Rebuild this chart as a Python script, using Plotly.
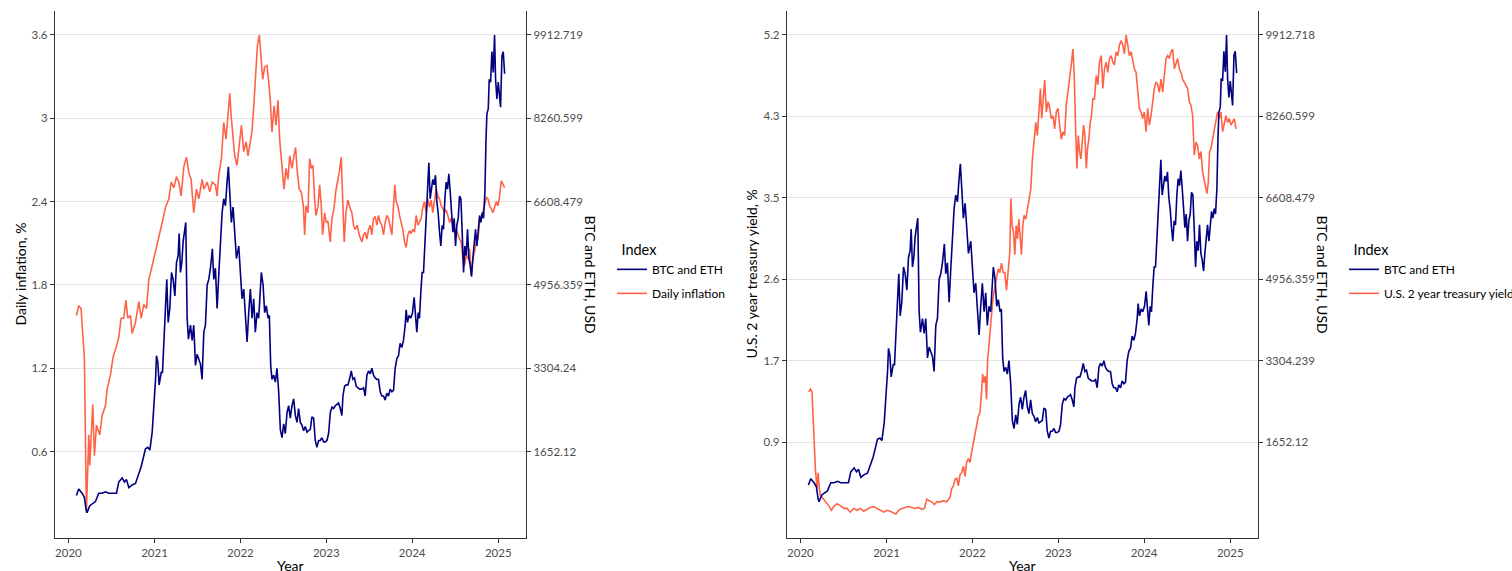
import pandas as pd
import plotly.graph_objects as go

# ---------------- data (dates as decimal years) ----------------
crypto_dates = [
    2020.093, 2020.120, 2020.159, 2020.186, 2020.206, 2020.217, 2020.248, 2020.275, 2020.314, 2020.353,
    2020.392, 2020.430, 2020.469, 2020.508, 2020.558, 2020.585, 2020.624, 2020.651, 2020.674, 2020.702,
    2020.740, 2020.779, 2020.818, 2020.845, 2020.868, 2020.895, 2020.923, 2020.946, 2020.973, 2020.992,
    2021.012, 2021.023, 2021.039, 2021.054, 2021.078, 2021.093, 2021.109, 2021.124, 2021.143, 2021.159,
    2021.178, 2021.198, 2021.217, 2021.237, 2021.256, 2021.275, 2021.287, 2021.302, 2021.318, 2021.333,
    2021.345, 2021.364, 2021.380, 2021.395, 2021.419, 2021.438, 2021.457, 2021.477, 2021.496, 2021.516,
    2021.535, 2021.554, 2021.574, 2021.593, 2021.613, 2021.632, 2021.651, 2021.674, 2021.690,
    2021.709, 2021.729, 2021.748, 2021.767, 2021.787, 2021.806, 2021.826, 2021.845, 2021.860, 2021.876,
    2021.895, 2021.915, 2021.934, 2021.954, 2021.981,
    2022.000, 2022.019, 2022.039, 2022.058, 2022.078, 2022.097, 2022.116, 2022.136, 2022.155, 2022.174,
    2022.194, 2022.213, 2022.233, 2022.244, 2022.264, 2022.283, 2022.302, 2022.322, 2022.337, 2022.353,
    2022.368, 2022.388, 2022.407, 2022.426, 2022.446, 2022.465, 2022.485, 2022.504, 2022.523, 2022.543,
    2022.562, 2022.581, 2022.601, 2022.620, 2022.640, 2022.659, 2022.678, 2022.698, 2022.717, 2022.736,
    2022.756, 2022.775, 2022.795, 2022.814, 2022.833, 2022.853, 2022.872, 2022.891, 2022.911, 2022.930,
    2022.950, 2022.969, 2022.988,
    2023.008, 2023.027, 2023.047, 2023.066, 2023.085, 2023.105, 2023.124, 2023.143, 2023.163, 2023.182,
    2023.194, 2023.213, 2023.233, 2023.252, 2023.271, 2023.291, 2023.310, 2023.329, 2023.349, 2023.368,
    2023.388,
    2023.415, 2023.434, 2023.453, 2023.473, 2023.492, 2023.512, 2023.531, 2023.550, 2023.570, 2023.589,
    2023.608, 2023.628, 2023.647, 2023.667, 2023.686, 2023.705, 2023.725, 2023.744, 2023.764, 2023.783,
    2023.802, 2023.822, 2023.841, 2023.860, 2023.880, 2023.899, 2023.919, 2023.930, 2023.946, 2023.965,
    2023.984,
    2024.004, 2024.023, 2024.039, 2024.054, 2024.070, 2024.085, 2024.101, 2024.116, 2024.132, 2024.147,
    2024.163, 2024.178, 2024.194, 2024.209, 2024.225, 2024.240, 2024.256, 2024.271, 2024.287, 2024.302,
    2024.318, 2024.333, 2024.349, 2024.364, 2024.380, 2024.395, 2024.411, 2024.426, 2024.442, 2024.457,
    2024.473, 2024.488, 2024.504, 2024.519, 2024.535, 2024.550, 2024.566, 2024.581, 2024.597, 2024.612,
    2024.628, 2024.643, 2024.659, 2024.674, 2024.690, 2024.705, 2024.721, 2024.736, 2024.752, 2024.767,
    2024.783, 2024.798, 2024.814, 2024.829, 2024.845, 2024.857, 2024.868, 2024.884, 2024.895, 2024.911,
    2024.926, 2024.942, 2024.957, 2024.969, 2024.984,
    2025.000, 2025.016, 2025.027, 2025.043, 2025.058, 2025.074,
]
crypto_usd = [
    779, 909, 826, 743, 496, 441, 578, 606, 661, 826,
    826, 854, 826, 826, 826, 1046, 1129, 1046, 1101, 936,
    991, 1019, 1212, 1349, 1514, 1707, 1735, 1680, 2038, 2506,
    3084, 3552, 3414, 2974, 3222, 3222, 3882, 4488, 5066, 4213,
    4488, 5204, 5066, 4736, 5397, 5535, 5975, 5204, 5397, 5810,
    5948, 6195, 4296, 3882, 4158, 3855, 4158, 3359, 3580, 3497,
    3387, 3084, 4020, 4158, 4956, 5066, 5287, 5672, 5066,
    5287, 4488, 5149, 5810, 6388, 6664, 6526, 6994, 7297, 6801,
    6195, 6498, 5948, 5480, 5727,
    5287, 4681, 4874, 4296, 3827, 4406, 4874, 4296, 4681, 4020,
    4406, 4296, 4874, 5204, 4956, 4406, 4543, 4296, 4351, 3359,
    3084, 3167, 3029, 3304, 2836, 2093, 1927, 2203, 2010, 2423,
    2561, 2313, 2561, 2698, 2368, 2230, 2506, 2230, 2175, 2065,
    2148, 2038, 2065, 2093, 2340, 2313, 1872, 1735, 1872, 1872,
    1927, 1845, 1845,
    1872, 2010, 2423, 2533, 2506, 2561, 2588, 2616, 2506, 2368,
    2754, 2946, 2974, 2974, 3084, 3249, 3084, 3111, 2946, 2919,
    2891,
    2891, 2919, 2754, 3167, 3249, 3194, 3304, 3167, 3111, 3084,
    3084, 2836, 2754, 2754, 2671, 2809, 2754, 2891, 2836, 2864,
    3304, 3497, 3552, 3800, 3717, 3855, 4158, 4461, 4213, 4351,
    4296,
    4406, 4709, 4406, 4020, 4406, 4296, 4819, 5204, 5204, 5727,
    6278, 6801, 7379, 6664, 6939, 7049, 6939, 7132, 6608, 6388,
    6003, 5727, 6140, 6058, 6664, 6994, 6856, 7159, 6801, 6388,
    6003, 6278, 5727, 6140, 6278, 6719, 6664, 6003, 5204, 5727,
    5535, 6058, 5480, 5342, 5122, 5480, 5865, 6058, 5727, 6003,
    6333, 6195, 6388, 6278, 6801, 7793, 8343, 8453, 9032, 8977,
    9582, 9169, 9913, 9032, 8646,
    8977, 8646, 8481, 9500, 9582, 9142,
]

inflation_dates = [
    2020.093, 2020.120, 2020.147, 2020.171, 2020.186, 2020.209, 2020.237, 2020.248, 2020.283, 2020.302,
    2020.326, 2020.364, 2020.392, 2020.430, 2020.450, 2020.488, 2020.519, 2020.558, 2020.585, 2020.612,
    2020.643, 2020.667, 2020.690, 2020.721, 2020.740, 2020.779, 2020.818, 2020.845, 2020.876, 2020.907,
    2020.934, 2020.973,
    2021.012, 2021.039, 2021.070, 2021.101, 2021.128, 2021.167, 2021.194, 2021.225, 2021.256, 2021.283,
    2021.310, 2021.341, 2021.372, 2021.399, 2021.426, 2021.457, 2021.488, 2021.516, 2021.554, 2021.574,
    2021.613, 2021.644, 2021.671, 2021.698,
    2021.709, 2021.729, 2021.748, 2021.779, 2021.806, 2021.833, 2021.857, 2021.876, 2021.895, 2021.915,
    2021.934, 2021.961, 2021.988,
    2022.012, 2022.039, 2022.066, 2022.089, 2022.116, 2022.136, 2022.159, 2022.182, 2022.198, 2022.221,
    2022.240, 2022.260, 2022.283, 2022.310, 2022.330, 2022.349, 2022.368, 2022.392, 2022.415, 2022.438,
    2022.457, 2022.485, 2022.508, 2022.531, 2022.554, 2022.574, 2022.601, 2022.624, 2022.643, 2022.663,
    2022.686, 2022.709, 2022.733, 2022.748, 2022.764, 2022.787, 2022.806, 2022.826, 2022.845, 2022.864,
    2022.880, 2022.903, 2022.923, 2022.942, 2022.957, 2022.981,
    2023.000, 2023.019, 2023.047, 2023.066, 2023.089, 2023.112, 2023.136, 2023.151, 2023.174, 2023.194,
    2023.209, 2023.229, 2023.252, 2023.279, 2023.298, 2023.318, 2023.337, 2023.361, 2023.384,
    2023.415, 2023.434, 2023.453, 2023.473, 2023.492, 2023.512, 2023.531, 2023.550, 2023.570, 2023.589,
    2023.608, 2023.628, 2023.647, 2023.667, 2023.686, 2023.705, 2023.725, 2023.744, 2023.764, 2023.783,
    2023.798, 2023.814, 2023.833, 2023.853, 2023.872, 2023.891, 2023.911, 2023.930, 2023.950, 2023.969,
    2023.988,
    2024.008, 2024.027, 2024.047, 2024.066, 2024.085, 2024.105, 2024.124, 2024.143, 2024.163, 2024.182,
    2024.202, 2024.221, 2024.240, 2024.260, 2024.279, 2024.298, 2024.318, 2024.337, 2024.357, 2024.376,
    2024.395, 2024.415, 2024.434, 2024.453, 2024.473, 2024.492, 2024.512, 2024.531, 2024.550, 2024.570,
    2024.589, 2024.608, 2024.628, 2024.647, 2024.667, 2024.686, 2024.705, 2024.725, 2024.744, 2024.764,
    2024.783, 2024.802, 2024.822, 2024.841, 2024.860, 2024.880, 2024.899, 2024.919, 2024.938, 2024.957,
    2024.977, 2024.996,
    2025.016, 2025.035, 2025.054, 2025.074,
]
inflation_pct = [
    1.58, 1.65, 1.63, 1.35, 1.27, 0.16, 0.72, 0.50, 0.94, 0.57,
    0.79, 0.72, 0.86, 0.93, 1.05, 1.15, 1.28, 1.36, 1.42, 1.56,
    1.56, 1.69, 1.56, 1.58, 1.45, 1.53, 1.68, 1.56, 1.66, 1.63,
    1.84, 1.94,
    2.04, 2.11, 2.18, 2.28, 2.36, 2.42, 2.54, 2.50, 2.58, 2.54,
    2.44, 2.65, 2.72, 2.61, 2.56, 2.32, 2.49, 2.42, 2.56, 2.49,
    2.54, 2.47, 2.54, 2.52,
    2.52, 2.44, 2.59, 2.71, 2.97, 2.85, 3.02, 3.18, 3.00, 2.88,
    2.73, 2.66, 2.80,
    2.95, 2.76, 2.83, 2.73, 2.85, 2.91, 3.12, 3.36, 3.52, 3.60,
    3.45, 3.28, 3.37, 3.38, 3.26, 3.12, 2.90, 3.09, 2.95, 3.13,
    2.85, 2.68, 2.49, 2.64, 2.56, 2.73, 2.64, 2.73, 2.79, 2.61,
    2.49, 2.47, 2.37, 2.16, 2.37, 2.32, 2.71, 2.64, 2.66, 2.42,
    2.30, 2.36, 2.52, 2.37, 2.16, 2.32,
    2.25, 2.26, 2.11, 2.28, 2.35, 2.48, 2.56, 2.61, 2.72, 2.42,
    2.11, 2.32, 2.41, 2.35, 2.32, 2.23, 2.20, 2.23, 2.16,
    2.11, 2.16, 2.18, 2.13, 2.20, 2.23, 2.16, 2.28, 2.29, 2.23,
    2.30, 2.25, 2.23, 2.16, 2.25, 2.30, 2.28, 2.23, 2.16, 2.37,
    2.52, 2.40, 2.37, 2.30, 2.25, 2.20, 2.11, 2.07, 2.16, 2.19,
    2.17,
    2.20, 2.18, 2.30, 2.23, 2.25, 2.28, 2.36, 2.40, 2.32, 2.42,
    2.36, 2.41, 2.32, 2.40, 2.49, 2.44, 2.42, 2.37, 2.35, 2.32,
    2.34, 2.30, 2.25, 2.28, 2.23, 2.18, 2.20, 2.16, 2.13, 2.11,
    1.99, 1.94, 2.01, 1.99, 2.06, 1.87, 1.99, 2.04, 2.11, 2.13,
    2.25, 2.28, 2.32, 2.37, 2.43, 2.42, 2.37, 2.35, 2.32, 2.36,
    2.40, 2.37,
    2.44, 2.55, 2.52, 2.50,
]

yield_dates = [
    2020.097, 2020.116, 2020.135, 2020.155, 2020.174, 2020.193, 2020.205, 2020.220, 2020.232, 2020.251,
    2020.271, 2020.298, 2020.329, 2020.360, 2020.387, 2020.425, 2020.464, 2020.503, 2020.541, 2020.580,
    2020.619, 2020.657, 2020.696, 2020.735, 2020.773, 2020.812, 2020.851, 2020.889, 2020.928, 2020.967,
    2021.005, 2021.044, 2021.083, 2021.110, 2021.141, 2021.179, 2021.218, 2021.257, 2021.295, 2021.334,
    2021.373, 2021.411, 2021.442, 2021.469, 2021.497, 2021.528, 2021.558, 2021.585, 2021.624, 2021.663,
    2021.701, 2021.729,
    2021.740, 2021.759, 2021.779, 2021.798, 2021.817, 2021.837, 2021.856, 2021.875, 2021.895, 2021.914,
    2021.933, 2021.953, 2021.972, 2021.991,
    2022.011, 2022.030, 2022.049, 2022.069, 2022.088, 2022.107, 2022.119, 2022.134, 2022.150, 2022.165,
    2022.177, 2022.192, 2022.204, 2022.220, 2022.235, 2022.250, 2022.266, 2022.281, 2022.301, 2022.320,
    2022.339, 2022.359, 2022.378, 2022.397, 2022.417, 2022.436, 2022.448, 2022.463, 2022.479, 2022.494,
    2022.510, 2022.525, 2022.541, 2022.556, 2022.571, 2022.587, 2022.602, 2022.622, 2022.641, 2022.660,
    2022.680, 2022.699, 2022.718, 2022.738, 2022.757, 2022.776, 2022.792, 2022.807, 2022.823, 2022.842,
    2022.861, 2022.881, 2022.900, 2022.919, 2022.939, 2022.958, 2022.977, 2022.997,
    2023.016, 2023.035, 2023.055, 2023.074, 2023.093, 2023.113, 2023.132, 2023.151, 2023.171, 2023.186,
    2023.202, 2023.217, 2023.233, 2023.248, 2023.264, 2023.279, 2023.295, 2023.310, 2023.326, 2023.341,
    2023.356, 2023.372, 2023.387, 2023.403,
    2023.422, 2023.442, 2023.461, 2023.480, 2023.500, 2023.519, 2023.538, 2023.558, 2023.577, 2023.596,
    2023.616, 2023.635, 2023.654, 2023.674, 2023.693, 2023.712, 2023.732, 2023.751, 2023.770, 2023.790,
    2023.809, 2023.828, 2023.848, 2023.867, 2023.886, 2023.906, 2023.925, 2023.944, 2023.964, 2023.983,
    2024.002, 2024.022, 2024.041, 2024.060, 2024.080, 2024.099, 2024.118, 2024.138, 2024.157, 2024.176,
    2024.196, 2024.215, 2024.234, 2024.254, 2024.273, 2024.293, 2024.312, 2024.331, 2024.350, 2024.370,
    2024.389, 2024.408, 2024.428, 2024.447, 2024.466, 2024.486, 2024.505, 2024.524, 2024.544, 2024.563,
    2024.582, 2024.602, 2024.621, 2024.640, 2024.660, 2024.679, 2024.698, 2024.718,
    2024.729, 2024.745, 2024.760,
    2024.776, 2024.795, 2024.814, 2024.834, 2024.853, 2024.872, 2024.892, 2024.911, 2024.930, 2024.950,
    2024.969, 2024.988,
    2025.008, 2025.027, 2025.047, 2025.066,
]
yield_pct = [
    1.40, 1.43, 1.40, 0.90, 0.58, 0.37, 0.54, 0.37, 0.30, 0.28,
    0.26, 0.23, 0.19, 0.14, 0.18, 0.21, 0.19, 0.16, 0.16, 0.12,
    0.16, 0.14, 0.16, 0.13, 0.15, 0.17, 0.18, 0.16, 0.14, 0.12,
    0.14, 0.13, 0.11, 0.10, 0.14, 0.16, 0.17, 0.18, 0.17, 0.16,
    0.17, 0.15, 0.16, 0.26, 0.24, 0.23, 0.20, 0.23, 0.23, 0.24,
    0.23, 0.26,
    0.28, 0.37, 0.40, 0.47, 0.48, 0.40, 0.52, 0.54, 0.61, 0.50,
    0.65, 0.69, 0.65, 0.76,
    0.87, 0.94, 1.04, 1.14, 1.18, 1.40, 1.59, 1.50, 1.57, 1.32,
    1.74, 1.89, 2.03, 2.17, 2.35, 2.46, 2.53, 2.60, 2.71, 2.67,
    2.77, 2.67, 2.67, 2.48, 2.67, 2.89, 3.46, 3.17, 3.10, 2.86,
    3.17, 3.03, 3.24, 3.03, 2.86, 3.17, 3.28, 3.24, 3.34, 3.41,
    3.56, 3.88, 4.09, 4.27, 4.13, 4.45, 4.63, 4.31, 4.49, 4.72,
    4.38, 4.49, 4.42, 4.31, 4.34, 4.20, 4.38, 4.42,
    4.24, 4.09, 4.17, 4.13, 4.45, 4.59, 4.70, 4.88, 5.05, 4.77,
    4.20, 3.78, 4.13, 3.96, 3.88, 4.06, 4.24, 4.13, 3.78, 3.99,
    4.09, 4.27, 4.34, 4.52,
    4.52, 4.77, 4.67, 4.91, 4.98, 4.63, 4.84, 4.91, 4.80, 4.95,
    4.98, 4.91, 4.88, 5.02, 4.98, 5.09, 5.14, 5.09, 5.00, 5.20,
    5.09, 4.98, 5.02, 4.91, 4.84, 4.80, 4.59, 4.42, 4.38, 4.31,
    4.38, 4.17, 4.42, 4.24, 4.34, 4.49, 4.63, 4.70, 4.67, 4.59,
    4.73, 4.59, 4.77, 4.95, 4.98, 4.95, 5.02, 5.05, 4.84, 4.91,
    4.95, 4.84, 4.80, 4.73, 4.70, 4.67, 4.63, 4.49, 4.45, 4.34,
    3.92, 4.06, 4.02, 3.88, 3.96, 3.74, 3.63, 3.56,
    3.51, 3.63, 3.96,
    3.99, 4.09, 4.20, 4.27, 4.38, 4.31, 4.38, 4.17, 4.24, 4.34,
    4.27, 4.31,
    4.24, 4.27, 4.31, 4.20,
]

year_ticks = [2020, 2021, 2022, 2023, 2024, 2025]
infl_tick_vals = [0.6, 1.2, 1.8, 2.4, 3.0, 3.6]
infl_tick_text = ["0.6", "1.2", "1.8", "2.4", "3", "3.6"]
usd_left_tick_vals = [1652.12, 3304.24, 4956.359, 6608.479, 8260.599, 9912.719]
usd_left_tick_text = ["1652.12", "3304.24", "4956.359", "6608.479", "8260.599", "9912.719"]
yield_tick_text = ["0.9", "1.7", "2.6", "3.5", "4.3", "5.2"]
usd_right_tick_vals = [1652.12, 3304.239, 4956.359, 6608.479, 8260.599, 9912.718]
usd_right_tick_text = ["1652.12", "3304.239", "4956.359", "6608.479", "8260.599", "9912.718"]

# secondary-axis scale factors (USD per unit of the primary axis)
LEFT_FACTOR = 9912.719 / 3.6
RIGHT_FACTOR = 9912.718 / 5.2
yield_tick_vals = [v / RIGHT_FACTOR for v in usd_right_tick_vals]


def to_date(y):
    yr = int(y)
    start = pd.Timestamp(yr, 1, 1)
    end = pd.Timestamp(yr + 1, 1, 1)
    return start + (end - start) * (y - yr)


crypto_x = [to_date(d) for d in crypto_dates]
infl_x = [to_date(d) for d in inflation_dates]
yield_x = [to_date(d) for d in yield_dates]

BLUE = "#000080"
RED = "#FF6347"
FONT = "Lato"
TICKCOL = "#4d4d4d"
LINECOL = "#333333"
LW = 1.6

fig = go.Figure()
fig.add_trace(go.Scatter(x=infl_x, y=inflation_pct, mode="lines", name="Daily inflation",
                         xaxis="x", yaxis="y", line=dict(color=RED, width=LW),
                         legend="legend", legendgroup="b1", legendrank=2))
fig.add_trace(go.Scatter(x=crypto_x, y=crypto_usd, mode="lines", name="BTC and ETH",
                         xaxis="x", yaxis="y2", line=dict(color=BLUE, width=LW),
                         legend="legend", legendgroup="a1", legendrank=1))
fig.add_trace(go.Scatter(x=yield_x, y=yield_pct, mode="lines", name="U.S. 2 year treasury yield",
                         xaxis="x2", yaxis="y3", line=dict(color=RED, width=LW),
                         legend="legend2", legendgroup="b2", legendrank=2))
fig.add_trace(go.Scatter(x=crypto_x, y=crypto_usd, mode="lines", name="BTC and ETH",
                         xaxis="x2", yaxis="y4", line=dict(color=BLUE, width=LW),
                         legend="legend2", legendgroup="a2", legendrank=1))

x_range = [to_date(2019.844), to_date(2025.323)]
tickfont = dict(family=FONT, size=11.5, color=TICKCOL)
common_x = dict(type="date", range=x_range, tickvals=[to_date(y) for y in year_ticks],
                ticktext=[str(y) for y in year_ticks], showgrid=False, zeroline=False,
                showline=True, linecolor=LINECOL, linewidth=1.3, ticks="outside",
                ticklen=4, tickwidth=1, tickcolor=LINECOL, tickfont=tickfont, automargin=False)
common_y = dict(showgrid=True, gridcolor="#e4e4e4", gridwidth=1, zeroline=False,
                showline=True, linecolor=LINECOL, linewidth=1.3, ticks="outside",
                ticklen=4, tickwidth=1, tickcolor=LINECOL, tickfont=tickfont, automargin=False)
common_y2 = dict(common_y, showgrid=False)

L_RANGE = [-0.0225, 3.7725]
R_RANGE = [-0.155, 5.455]
W = 1203.0
d1 = [0, 471 / W]
d2 = [732 / W, 1]

legend_title = dict(text="\u00a0\u00a0Index", font=dict(family=FONT, size=14.5, color="black"))
legend_font = dict(family=FONT, size=12, color="black")

fig.update_layout(
    width=1512, height=571,
    margin=dict(l=55, r=254, t=11, b=33, autoexpand=False),
    paper_bgcolor="white", plot_bgcolor="white",
    font=dict(family=FONT, color="black"),
    xaxis=dict(common_x, domain=d1, anchor="y"),
    xaxis2=dict(common_x, domain=d2, anchor="y3"),
    yaxis=dict(common_y, anchor="x", range=L_RANGE, tickvals=infl_tick_vals, ticktext=infl_tick_text),
    yaxis2=dict(common_y2, anchor="x", overlaying="y", side="right",
                range=[L_RANGE[0] * LEFT_FACTOR, L_RANGE[1] * LEFT_FACTOR],
                tickvals=usd_left_tick_vals, ticktext=usd_left_tick_text),
    yaxis3=dict(common_y, anchor="x2", range=R_RANGE, tickvals=yield_tick_vals, ticktext=yield_tick_text),
    yaxis4=dict(common_y2, anchor="x2", overlaying="y3", side="right",
                range=[R_RANGE[0] * RIGHT_FACTOR, R_RANGE[1] * RIGHT_FACTOR],
                tickvals=usd_right_tick_vals, ticktext=usd_right_tick_text),
    legend=dict(x=(612 - 55) / W, xanchor="left", y=(538 - 236) / 527.0, yanchor="top",
                title=legend_title, font=legend_font, bgcolor="rgba(0,0,0,0)", tracegroupgap=5),
    legend2=dict(x=(1344 - 55) / W, xanchor="left", y=(538 - 236) / 527.0, yanchor="top",
                 title=legend_title, font=legend_font, bgcolor="rgba(0,0,0,0)", tracegroupgap=5),
    showlegend=True,
)

title_font = dict(family=FONT, size=14, color="black")
annotations = [
    dict(text="Daily inflation, %", x=(20 - 55) / W, y=0.5, textangle=-90),
    dict(text="BTC and ETH, USD", x=(590 - 55) / W, y=0.5, textangle=90),
    dict(text="U.S. 2 year treasury yield, %", x=(751 - 55) / W, y=0.5, textangle=-90),
    dict(text="BTC and ETH, USD", x=(1322 - 55) / W, y=0.5, textangle=90),
]
for a in annotations:
    fig.add_annotation(xref="paper", yref="paper", showarrow=False, xanchor="center",
                       yanchor="middle", font=title_font, **a)
for xc in [(290.5 - 55) / W, (1022.5 - 55) / W]:
    fig.add_annotation(text="Year", xref="paper", yref="paper", x=xc, y=(538 - 555) / 527.0,
                       xanchor="center", yanchor="top", showarrow=False, font=title_font)

fig.write_html("out.html", config={"displayModeBar": False},
               post_script="document.body.style.margin='0';document.body.style.overflow='hidden';")
